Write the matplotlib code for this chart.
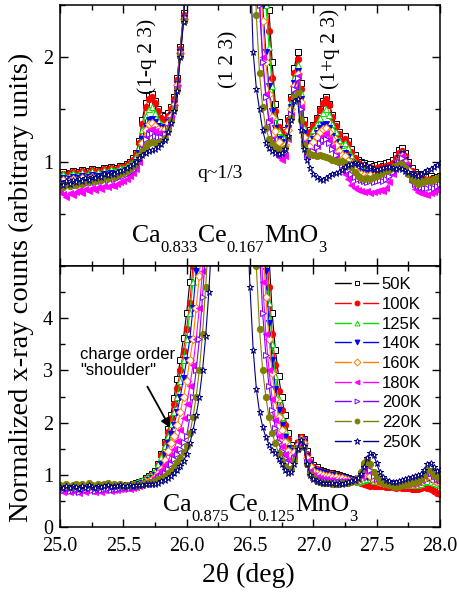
import numpy as np
import matplotlib
matplotlib.use("Agg")
import matplotlib.pyplot as plt
from matplotlib.ticker import MultipleLocator, FixedLocator, FormatStrFormatter
from matplotlib.lines import Line2D
from matplotlib.legend_handler import HandlerTuple

plt.rcParams['font.family'] = ['Liberation Serif', 'DejaVu Serif']

# scan grid (0.025 deg steps)
two_theta = np.linspace(25.0, 28.0, 121)

temps = ['50K', '100K', '125K', '140K', '160K', '180K', '200K', '220K', '250K']

# ---- Ca0.833Ce0.167MnO3 (top panel) ----
top_50K = [0.88,0.90,0.87,0.89,0.91,0.88,0.90,0.92,0.89,0.91,0.93,0.90,0.92,0.91,0.94,0.92,0.95,0.93,0.94,0.96,
           0.96,0.98,1.00,1.03,1.08,1.20,1.40,1.56,1.64,1.65,1.58,1.50,1.45,1.44,1.47,1.52,1.62,1.80,2.10,2.42,
           2.9,3.5,4.2,5.0,6.0,7.5,9.0,11,13,15,17,18,18,17,15,13,12,11,10,9.5,
           9.0,7.0,5.5,4.3,3.4,2.9,2.45,1.95,1.55,1.38,1.30,1.30,1.42,1.62,1.90,2.05,1.75,1.40,1.28,1.30,
           1.35,1.42,1.50,1.58,1.62,1.55,1.45,1.36,1.28,1.22,1.25,1.20,1.12,1.06,1.02,1.00,0.99,0.97,0.98,0.96,
           0.97,0.98,0.96,0.99,1.00,1.02,1.06,1.11,1.13,1.08,1.00,0.94,0.90,0.88,0.87,0.86,0.85,0.86,0.84,0.85,0.86]
top_100K = [0.87,0.88,0.86,0.89,0.90,0.87,0.89,0.91,0.88,0.90,0.92,0.89,0.91,0.90,0.93,0.91,0.94,0.92,0.93,0.95,
            0.95,0.97,0.99,1.02,1.07,1.18,1.36,1.52,1.60,1.62,1.56,1.48,1.42,1.40,1.44,1.50,1.60,1.78,2.08,2.40,
            2.9,3.5,4.2,5.0,6.0,7.5,9.0,11,13,15,17,18,18,17,15,13,12,11,10,9.5,
            9.0,6.8,5.2,4.0,3.2,2.7,2.25,1.80,1.48,1.33,1.27,1.28,1.40,1.60,1.85,1.98,1.70,1.36,1.25,1.28,
            1.34,1.41,1.49,1.56,1.60,1.54,1.43,1.34,1.26,1.20,1.22,1.17,1.09,1.03,0.99,0.97,0.95,0.94,0.95,0.93,
            0.94,0.95,0.93,0.96,0.97,0.99,1.03,1.08,1.10,1.05,0.97,0.91,0.87,0.85,0.84,0.83,0.82,0.83,0.81,0.82,0.83]
top_125K = [0.86,0.88,0.85,0.87,0.89,0.86,0.88,0.90,0.87,0.89,0.91,0.88,0.90,0.89,0.92,0.90,0.93,0.91,0.92,0.94,
            0.94,0.96,0.98,1.00,1.05,1.14,1.30,1.44,1.50,1.52,1.47,1.40,1.36,1.35,1.40,1.47,1.57,1.76,2.06,2.39,
            2.9,3.5,4.2,5.0,6.0,7.5,9.0,11,13,15,17,18,18,17,15,13,12,11,10,9.5,
            8.5,6.5,5.0,3.8,3.0,2.5,2.1,1.72,1.43,1.29,1.23,1.24,1.36,1.56,1.80,1.93,1.66,1.32,1.21,1.24,
            1.30,1.36,1.42,1.47,1.50,1.45,1.36,1.28,1.21,1.16,1.18,1.13,1.06,1.00,0.96,0.94,0.92,0.91,0.92,0.90,
            0.91,0.92,0.90,0.93,0.94,0.96,1.00,1.05,1.08,1.03,0.95,0.89,0.85,0.83,0.82,0.81,0.80,0.81,0.79,0.80,0.81]
top_140K = [0.82,0.84,0.81,0.83,0.85,0.82,0.84,0.86,0.83,0.85,0.87,0.84,0.86,0.85,0.88,0.86,0.89,0.87,0.88,0.90,
            0.90,0.92,0.94,0.96,1.00,1.08,1.22,1.34,1.40,1.41,1.38,1.34,1.32,1.33,1.38,1.45,1.55,1.74,2.05,2.38,
            2.9,3.5,4.2,5.0,6.0,7.5,9.0,11,13,15,17,18,18,17,15,13,12,11,10,9.5,
            8.0,5.8,4.2,3.2,2.5,2.05,1.72,1.48,1.32,1.22,1.17,1.19,1.32,1.52,1.75,1.87,1.60,1.27,1.16,1.18,
            1.22,1.27,1.32,1.35,1.36,1.32,1.25,1.19,1.12,1.08,1.08,1.04,0.98,0.94,0.91,0.90,0.89,0.88,0.89,0.88,
            0.88,0.89,0.88,0.90,0.92,0.94,0.98,1.03,1.07,1.02,0.94,0.88,0.84,0.82,0.81,0.80,0.79,0.80,0.79,0.80,0.81]
top_160K = [0.80,0.82,0.79,0.81,0.83,0.80,0.82,0.84,0.81,0.83,0.85,0.82,0.84,0.83,0.86,0.84,0.87,0.85,0.86,0.88,
            0.88,0.90,0.92,0.94,0.98,1.05,1.18,1.30,1.36,1.37,1.34,1.31,1.30,1.31,1.37,1.44,1.54,1.73,2.04,2.37,
            2.9,3.5,4.2,5.0,6.0,7.5,9.0,11,13,15,17,18,18,17,15,13,12,11,10,9.5,
            7.8,5.6,4.0,3.0,2.35,1.95,1.65,1.43,1.29,1.19,1.14,1.16,1.30,1.50,1.72,1.84,1.57,1.24,1.13,1.15,
            1.19,1.24,1.28,1.31,1.32,1.28,1.22,1.16,1.10,1.06,1.05,1.01,0.96,0.92,0.89,0.88,0.87,0.86,0.87,0.86,
            0.86,0.87,0.86,0.88,0.90,0.92,0.96,1.01,1.05,1.00,0.92,0.86,0.82,0.80,0.79,0.78,0.78,0.79,0.78,0.79,0.80]
top_180K = [0.72,0.69,0.66,0.70,0.68,0.71,0.73,0.70,0.74,0.72,0.75,0.73,0.76,0.74,0.77,0.76,0.78,0.77,0.79,0.80,
            0.81,0.83,0.86,0.89,0.93,1.00,1.12,1.24,1.30,1.31,1.29,1.27,1.26,1.28,1.34,1.42,1.52,1.71,2.02,2.36,
            2.9,3.5,4.2,5.0,6.0,7.5,9.0,11,13,15,17,18,18,17,15,13,12,11,10,9.5,
            7.0,4.8,3.4,2.6,2.0,1.65,1.40,1.22,1.10,1.04,1.02,1.05,1.22,1.45,1.70,1.82,1.52,1.18,1.05,1.06,
            1.10,1.15,1.20,1.25,1.27,1.22,1.14,1.06,0.98,0.92,0.88,0.83,0.78,0.75,0.73,0.72,0.71,0.72,0.70,0.71,
            0.72,0.73,0.72,0.75,0.80,0.88,0.96,1.02,1.05,0.98,0.88,0.80,0.74,0.71,0.70,0.69,0.68,0.70,0.71,0.73,0.75]
top_200K = [0.78,0.80,0.77,0.79,0.81,0.78,0.80,0.82,0.79,0.81,0.83,0.80,0.82,0.81,0.84,0.82,0.85,0.83,0.84,0.86,
            0.86,0.88,0.90,0.92,0.96,1.02,1.12,1.22,1.26,1.27,1.25,1.24,1.24,1.26,1.32,1.40,1.51,1.70,2.02,2.36,
            2.9,3.5,4.2,5.0,6.0,7.5,9.0,11,13,15,17,18,18,17,15,13,12,11,10,9.5,
            7.0,4.6,3.3,2.5,1.95,1.62,1.38,1.22,1.12,1.07,1.06,1.09,1.24,1.46,1.70,1.80,1.50,1.18,1.06,1.07,
            1.10,1.14,1.18,1.21,1.22,1.18,1.12,1.06,1.01,0.97,0.95,0.92,0.88,0.85,0.83,0.82,0.81,0.80,0.81,0.80,
            0.81,0.82,0.81,0.83,0.86,0.90,0.95,1.00,1.03,0.97,0.89,0.83,0.79,0.77,0.76,0.75,0.75,0.76,0.75,0.77,0.79]
top_220K = [0.78,0.76,0.79,0.77,0.80,0.78,0.81,0.79,0.82,0.80,0.83,0.81,0.84,0.82,0.85,0.84,0.86,0.85,0.87,0.88,
            0.89,0.91,0.93,0.96,0.99,1.04,1.10,1.15,1.18,1.19,1.18,1.18,1.20,1.23,1.30,1.39,1.50,1.69,2.01,2.35,
            2.9,3.5,4.2,5.0,6.0,7.5,9.0,11,13,15,17,18,18,17,15,13,12,11,10,9.5,
            6.0,3.5,2.4,1.85,1.52,1.32,1.22,1.17,1.14,1.12,1.11,1.13,1.24,1.42,1.62,1.66,1.40,1.16,1.10,1.07,
            1.06,1.05,1.06,1.05,1.04,1.03,1.02,1.01,1.00,1.01,0.99,0.98,0.95,0.90,0.86,0.84,0.83,0.84,0.83,0.85,
            0.86,0.88,0.90,0.91,0.92,0.94,0.96,0.98,0.98,0.94,0.88,0.83,0.80,0.79,0.81,0.80,0.82,0.81,0.83,0.84,0.85]
top_250K = [0.80,0.78,0.81,0.79,0.82,0.80,0.83,0.81,0.84,0.82,0.85,0.84,0.86,0.85,0.88,0.87,0.89,0.88,0.90,0.91,
            0.92,0.94,0.96,0.98,1.00,1.03,1.06,1.08,1.10,1.11,1.12,1.14,1.17,1.21,1.28,1.37,1.48,1.68,2.00,2.34,
            2.9,3.5,4.2,5.0,6.0,7.5,9.0,11,13,15,17,18,18,17,15,13,12,11,8.0,5.0,
            3.0,2.05,1.70,1.50,1.30,1.18,1.13,1.10,1.08,1.07,1.08,1.12,1.25,1.40,1.58,1.60,1.30,1.12,1.02,0.94,
            0.88,0.85,0.83,0.82,0.84,0.86,0.88,0.89,0.90,0.92,0.95,0.97,0.98,0.99,0.98,0.97,0.98,0.96,0.95,0.93,
            0.92,0.93,0.94,0.95,0.95,0.94,0.93,0.94,0.93,0.91,0.90,0.88,0.87,0.86,0.88,0.90,0.92,0.93,0.95,0.97,0.99]

# ---- Ca0.875Ce0.125MnO3 (bottom panel) ----
bot_50K = [0.76,0.74,0.78,0.73,0.75,0.77,0.72,0.76,0.74,0.78,0.75,0.73,0.77,0.74,0.76,0.78,0.75,0.77,0.76,0.79,
           0.78,0.80,0.79,0.82,0.84,0.87,0.89,0.93,0.98,1.02,1.08,1.20,1.40,1.62,1.88,2.15,2.48,2.83,3.20,3.63,
           4.10,4.70,5.40,6.5,8.0,10,12,14,16,18,20,20,20,20,20,20,20,20,20,20,
           20,18,15,12,9.0,6.5,5.2,4.1,3.4,2.9,2.5,2.15,1.80,1.58,1.52,1.60,1.72,1.68,1.45,1.28,
           1.18,1.14,1.10,1.08,1.06,1.04,1.03,1.02,1.00,0.98,0.96,0.94,0.92,0.90,0.88,0.87,0.86,0.85,0.86,0.88,
           0.89,0.88,0.86,0.85,0.84,0.83,0.82,0.82,0.81,0.80,0.80,0.79,0.78,0.78,0.80,0.82,0.84,0.82,0.78,0.75,0.72]
bot_100K = [0.74,0.72,0.76,0.71,0.73,0.75,0.70,0.74,0.72,0.76,0.73,0.71,0.75,0.72,0.74,0.76,0.73,0.75,0.74,0.77,
            0.76,0.78,0.77,0.80,0.82,0.85,0.87,0.91,0.95,0.99,1.04,1.18,1.38,1.60,1.82,2.08,2.35,2.66,3.00,3.38,
            3.80,4.30,5.00,5.8,7.0,9.0,11,14,16,18,20,20,20,20,20,20,20,20,20,20,
            20,16,13,10,7.5,5.6,4.6,3.7,3.1,2.6,2.25,1.95,1.68,1.52,1.50,1.62,1.72,1.66,1.40,1.24,
            1.15,1.11,1.08,1.06,1.04,1.02,1.01,1.00,0.98,0.96,0.94,0.92,0.90,0.88,0.86,0.84,0.82,0.80,0.79,0.78,
            0.78,0.79,0.78,0.77,0.76,0.76,0.75,0.76,0.75,0.74,0.74,0.73,0.72,0.72,0.74,0.76,0.75,0.72,0.69,0.66,0.64]
bot_125K = [0.77,0.75,0.79,0.74,0.76,0.78,0.73,0.77,0.75,0.79,0.76,0.74,0.78,0.75,0.77,0.79,0.76,0.78,0.77,0.80,
            0.79,0.81,0.80,0.83,0.85,0.88,0.90,0.94,0.98,1.02,1.08,1.20,1.35,1.55,1.75,1.98,2.20,2.50,2.80,3.20,
            3.60,4.10,4.70,5.5,6.8,8.5,11,14,16,18,20,20,20,20,20,20,20,20,20,20,
            20,16,12,9.0,7.0,5.3,4.3,3.5,2.9,2.45,2.1,1.85,1.62,1.50,1.50,1.62,1.70,1.64,1.38,1.22,
            1.13,1.10,1.07,1.05,1.03,1.02,1.00,0.99,0.97,0.95,0.93,0.91,0.89,0.88,0.87,0.88,0.90,0.92,0.91,0.89,
            0.88,0.86,0.85,0.84,0.83,0.83,0.82,0.82,0.81,0.81,0.80,0.80,0.80,0.81,0.83,0.86,0.88,0.86,0.84,0.82,0.80]
bot_140K = [0.73,0.71,0.75,0.70,0.72,0.74,0.69,0.73,0.71,0.75,0.72,0.70,0.74,0.71,0.73,0.75,0.72,0.74,0.73,0.76,
            0.75,0.77,0.76,0.79,0.80,0.82,0.84,0.87,0.90,0.94,0.99,1.08,1.20,1.38,1.60,1.78,1.95,2.20,2.50,2.85,
            3.20,3.60,4.20,4.90,5.7,7.0,9.0,12,15,18,20,20,20,20,20,20,20,20,20,20,
            20,15,11,8.5,6.3,4.9,3.9,3.2,2.65,2.25,1.95,1.72,1.52,1.42,1.45,1.58,1.68,1.62,1.36,1.20,
            1.12,1.08,1.06,1.04,1.02,1.00,0.99,0.98,0.96,0.95,0.93,0.91,0.90,0.89,0.90,0.92,0.95,0.96,0.93,0.90,
            0.88,0.87,0.86,0.85,0.85,0.84,0.84,0.83,0.83,0.82,0.82,0.82,0.83,0.84,0.86,0.90,0.94,0.92,0.88,0.85,0.83]
bot_160K = [0.74,0.72,0.75,0.71,0.73,0.75,0.70,0.74,0.72,0.75,0.73,0.71,0.74,0.72,0.74,0.76,0.73,0.75,0.74,0.76,
            0.75,0.77,0.76,0.78,0.79,0.81,0.83,0.86,0.89,0.92,0.96,1.03,1.12,1.28,1.45,1.60,1.75,1.95,2.20,2.50,
            2.80,3.20,3.60,4.20,4.80,5.6,7.0,9.0,12,15,20,20,20,20,20,20,20,20,20,20,
            20,14,10,7.5,5.6,4.4,3.6,2.95,2.45,2.1,1.85,1.63,1.45,1.38,1.44,1.58,1.68,1.60,1.32,1.16,
            1.08,1.04,1.02,1.00,0.98,0.97,0.96,0.95,0.94,0.93,0.92,0.90,0.89,0.88,0.90,0.94,1.00,1.03,0.98,0.92,
            0.89,0.86,0.85,0.84,0.84,0.83,0.83,0.83,0.82,0.82,0.83,0.83,0.84,0.86,0.88,0.94,0.98,0.95,0.90,0.86,0.84]
bot_180K = [0.70,0.68,0.72,0.67,0.69,0.71,0.66,0.70,0.68,0.72,0.69,0.67,0.71,0.68,0.70,0.72,0.69,0.71,0.70,0.73,
            0.72,0.74,0.73,0.75,0.76,0.78,0.80,0.83,0.86,0.90,0.95,1.02,1.10,1.18,1.25,1.38,1.50,1.65,1.85,2.08,
            2.35,2.70,3.10,3.60,4.20,4.90,5.8,7.0,9.0,12,15,20,20,20,20,20,20,20,20,20,
            18,12,8.5,6.2,4.7,3.7,3.0,2.45,2.05,1.75,1.55,1.40,1.29,1.28,1.38,1.55,1.66,1.56,1.26,1.08,
            1.00,0.96,0.94,0.92,0.91,0.90,0.90,0.89,0.89,0.88,0.88,0.88,0.88,0.89,0.92,0.98,1.08,1.12,1.05,0.95,
            0.90,0.86,0.84,0.83,0.82,0.82,0.81,0.81,0.81,0.81,0.82,0.83,0.85,0.87,0.90,0.98,1.04,1.00,0.94,0.89,0.86]
bot_200K = [0.72,0.70,0.74,0.69,0.71,0.73,0.68,0.72,0.70,0.74,0.71,0.69,0.73,0.70,0.72,0.74,0.71,0.73,0.72,0.75,
            0.74,0.76,0.75,0.77,0.78,0.79,0.80,0.82,0.84,0.86,0.89,0.93,0.98,1.04,1.11,1.20,1.30,1.40,1.50,1.62,
            1.75,2.10,2.50,3.00,3.60,4.40,5.30,6.5,8.0,11,14,18,20,20,20,20,20,20,20,20,
            16,10,7.2,5.3,4.1,3.3,2.7,2.25,1.90,1.62,1.45,1.32,1.22,1.20,1.32,1.52,1.66,1.55,1.24,1.05,
            0.96,0.92,0.90,0.89,0.88,0.87,0.87,0.86,0.86,0.86,0.86,0.86,0.87,0.89,0.93,1.02,1.14,1.18,1.10,0.98,
            0.92,0.88,0.86,0.85,0.84,0.84,0.83,0.83,0.84,0.84,0.85,0.86,0.87,0.89,0.93,1.02,1.08,1.04,0.97,0.92,0.90]
bot_220K = [0.80,0.78,0.82,0.77,0.81,0.83,0.78,0.82,0.79,0.84,0.80,0.78,0.83,0.80,0.82,0.84,0.81,0.83,0.80,0.82,
            0.79,0.81,0.80,0.82,0.80,0.81,0.82,0.84,0.85,0.87,0.89,0.91,0.94,0.98,1.03,1.08,1.15,1.24,1.33,1.44,
            1.55,1.80,2.10,2.50,3.00,3.70,4.60,5.6,7.0,9.0,12,16,20,20,20,20,20,20,20,20,
            12,7.0,5.0,3.8,3.0,2.5,2.1,1.80,1.60,1.42,1.28,1.16,1.10,1.12,1.28,1.50,1.66,1.54,1.20,1.02,
            0.93,0.88,0.86,0.85,0.84,0.84,0.83,0.83,0.83,0.84,0.84,0.85,0.86,0.88,0.93,1.05,1.22,1.30,1.20,1.05,
            0.95,0.88,0.84,0.82,0.80,0.78,0.77,0.78,0.80,0.82,0.83,0.85,0.86,0.88,0.92,1.00,1.10,1.08,1.00,0.95,0.92]
bot_250K = [0.77,0.74,0.78,0.75,0.79,0.76,0.73,0.78,0.75,0.80,0.77,0.74,0.79,0.76,0.78,0.80,0.77,0.79,0.78,0.80,
            0.79,0.78,0.80,0.79,0.80,0.81,0.80,0.82,0.82,0.83,0.83,0.85,0.88,0.90,0.94,0.98,1.03,1.09,1.16,1.26,
            1.40,1.60,1.85,2.15,2.50,3.00,3.65,4.50,5.6,7.0,9.0,12,16,20,20,20,16,12,9.0,6.0,
            4.6,3.4,2.65,2.2,1.92,1.72,1.58,1.48,1.42,1.30,1.20,1.10,1.04,1.05,1.20,1.50,1.67,1.55,1.20,1.00,
            0.92,0.88,0.86,0.85,0.84,0.85,0.84,0.83,0.84,0.83,0.85,0.86,0.88,0.90,0.94,1.02,1.15,1.32,1.42,1.38,
            1.22,1.05,0.95,0.90,0.88,0.87,0.86,0.88,0.90,0.92,0.93,0.95,0.97,0.99,1.02,1.10,1.20,1.23,1.15,1.08,1.10]

top_series = [top_50K, top_100K, top_125K, top_140K, top_160K, top_180K, top_200K, top_220K, top_250K]
bot_series = [bot_50K, bot_100K, bot_125K, bot_140K, bot_160K, bot_180K, bot_200K, bot_220K, bot_250K]

colors = ['black', '#ff0000', '#00e000', '#0000ff', '#ff8000', '#ff00ff', '#8000ff', '#808000', '#000080']
markers = ['s', 'o', '^', 'v', 'D', '<', '>', 'o', '*']
is_open = [True, False, True, False, True, False, True, False, True]
msizes = [4.5, 4.5, 4.5, 4.5, 4.0, 4.5, 4.5, 4.5, 5.0]

fig = plt.figure(figsize=(4.59, 5.93), dpi=100)
W, H = 459.0, 593.0
ax_top = fig.add_axes([60 / W, 1 - 266 / H, 380 / W, 261 / H])
ax_bot = fig.add_axes([60 / W, 1 - 527 / H, 380 / W, 261 / H])


def draw_curves(ax, series):
    for y, t, c, m, op, ms in zip(series, temps, colors, markers, is_open, msizes):
        ax.plot(two_theta, y, color=c, lw=0.8, marker=m, ms=ms,
                mfc='white' if op else c, mec=c, mew=0.7, label=t)


def draw_formula(ax, x, y, parts, big=18.5, small=12, drop=6.5):
    # chemical formula with low-sitting subscripts, pieces chained left to right
    t = ax.text(x, y, parts[0], fontsize=big, ha='left', va='bottom')
    for i, s in enumerate(parts[1:], start=1):
        sub = i % 2 == 1
        t = ax.annotate(s, xy=(1, 0), xycoords=t, xytext=(0, -drop if sub else drop),
                        textcoords='offset points', fontsize=small if sub else big,
                        ha='left', va='bottom')


draw_curves(ax_top, top_series)
draw_curves(ax_bot, bot_series)

for ax in (ax_top, ax_bot):
    ax.set_xlim(25.0, 28.0)
    ax.xaxis.set_major_locator(MultipleLocator(0.5))
    ax.xaxis.set_minor_locator(MultipleLocator(0.25))
    ax.xaxis.set_major_formatter(FormatStrFormatter('%.1f'))
    ax.yaxis.set_minor_locator(MultipleLocator(0.5))
    ax.tick_params(which='both', direction='in', top=True, right=True, width=1.0,
                   labelsize=14.5, pad=5)
    ax.tick_params(which='major', length=6)
    ax.tick_params(which='minor', length=3.5)
    ax.tick_params(axis='x', pad=7.5)
    for sp in ax.spines.values():
        sp.set_linewidth(1.1)

ax_top.set_ylim(0, 2.5)
ax_top.yaxis.set_major_locator(FixedLocator([1, 2]))
ax_top.tick_params(labelbottom=False)
ax_bot.set_ylim(0, 5)
ax_bot.yaxis.set_major_locator(FixedLocator([0, 1, 2, 3, 4]))

# annotations, top panel
for xt, yt, s in [(25.69, 2.01, '(1-q 2 3)'), (26.33, 1.98, '(1 2 3)'), (27.13, 2.08, '(1+q 2 3)')]:
    ax_top.text(xt, yt, s, rotation=90, ha='center', va='center', fontsize=15.5)
ax_top.text(26.26, 0.886, 'q~1/3', ha='center', va='center', fontsize=14)
draw_formula(ax_top, 25.568, 0.185, ['Ca', '0.833', 'Ce', '0.167', 'MnO', '3'])

# annotations, bottom panel
draw_formula(ax_bot, 25.813, 0.218, ['Ca', '0.875', 'Ce', '0.125', 'MnO', '3'])
ax_bot.text(25.16, 3.15, 'charge order\n"shoulder"', ha='left', va='center', fontsize=12,
            family=['Liberation Sans', 'DejaVu Sans'], linespacing=1.15)
ax_bot.annotate('', xy=(25.87, 1.9), xytext=(25.69, 2.69),
                arrowprops=dict(arrowstyle='-|>', color='black', lw=1.3, mutation_scale=14,
                                shrinkA=0, shrinkB=0))

# legend: line broken around a small marker
handles = []
for c, m, op in zip(colors, markers, is_open):
    seg = Line2D([], [], color=c, lw=1.0)
    gap = Line2D([], [], ls='none', marker='s', ms=7, mfc='white', mec='white')
    mk = Line2D([], [], ls='none', marker=m, ms=3.5 if m != '*' else 4.5,
                mfc='white' if op else c, mec=c, mew=0.7)
    handles.append((seg, gap, mk))
ax_bot.legend(handles, temps, handler_map={tuple: HandlerTuple(ndivide=1, pad=0)},
              loc='upper left', bbox_to_anchor=(0.724, 0.957),
              frameon=False, borderpad=0, borderaxespad=0, handlelength=2.6,
              handletextpad=0.2, labelspacing=0.28,
              prop={'family': ['Liberation Sans', 'DejaVu Sans'], 'size': 12})

fig.text(21 / W, 1 - 287 / H, 'Normalized x-ray counts (arbitrary units)', rotation=90,
         ha='center', va='center', fontsize=20.5)
fig.text(248 / W, 1 - 575 / H, '2\u03b8 (deg)', ha='center', va='center', fontsize=20)

fig.savefig('out.png', dpi=100)
